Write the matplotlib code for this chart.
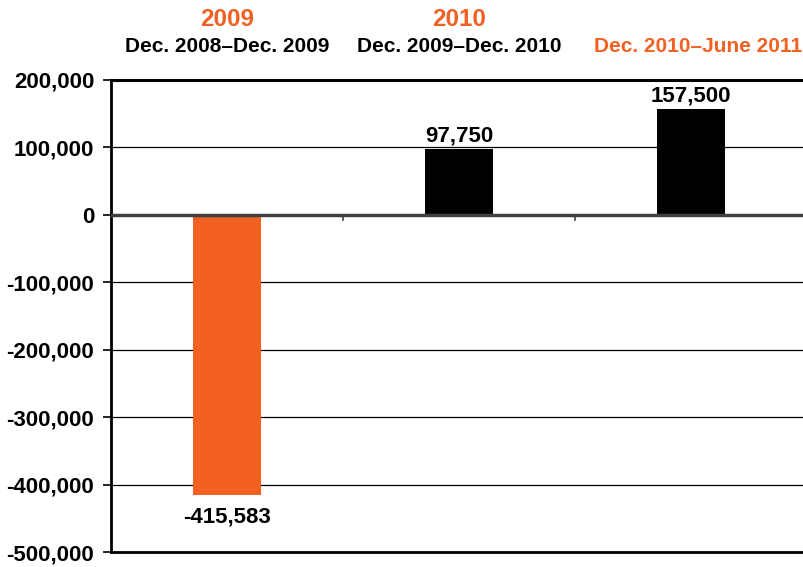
import numpy as np
import matplotlib.pyplot as plt
from matplotlib.ticker import FuncFormatter

# data
periods = ["Dec. 2008\u2013Dec. 2009", "Dec. 2009\u2013Dec. 2010", "Dec. 2010\u2013June 2011"]
years = ["2009", "2010", ""]
changes = [-415583, 97750, 157500]
labels = ["-415,583", "97,750", "157,500"]

orange = "#F26122"
bar_colors = [orange, "black", "black"]
head_colors = ["black", "black", orange]

plt.rcParams['font.family'] = ['Liberation Sans', 'DejaVu Sans']
plt.rcParams['font.weight'] = 'bold'

fig = plt.figure(figsize=(8.04, 5.67), dpi=100)
ax = fig.add_axes([0.138, 0.026, 0.866, 0.833])

x = np.arange(len(changes))
ax.bar(x, changes, width=0.293, color=bar_colors, zorder=3)
ax.set_xlim(-0.5, 2.5)
ax.set_ylim(-500000, 200000)
ax.set_yticks(np.arange(-500000, 200001, 100000))
ax.yaxis.set_major_formatter(FuncFormatter(lambda v, p: f"{int(v):,}"))
ax.tick_params(axis='y', labelsize=16, length=6, width=1.2, pad=6)
ax.grid(axis='y', color='black', linewidth=0.9, zorder=0)

ax.set_xticks([0.5, 1.5])
ax.set_xticklabels([])
ax.tick_params(axis='x', length=0)
# small boundary ticks under the zero line
for b in [0.5, 1.5]:
    ax.plot([b, b], [0, -8000], color='#404040', lw=1.2, zorder=4)
ax.axhline(0, color='#404040', lw=2.5, zorder=4)

ax.spines['right'].set_visible(False)
ax.spines['left'].set_linewidth(2)
ax.spines['bottom'].set_linewidth(2)
ax.spines['top'].set_linewidth(2.2)

for i, (v, t) in enumerate(zip(changes, labels)):
    if v >= 0:
        ax.text(i, v + 3000, t, ha='center', va='bottom', fontsize=16, fontweight='bold')
    else:
        ax.text(i, v - 17000, t, ha='center', va='top', fontsize=16, fontweight='bold')

for i in range(len(periods)):
    xf = fig.transFigure.inverted().transform(ax.transData.transform((i, 0)))[0]
    if i == 2:
        xf += 7 / 804
    if years[i]:
        fig.text(xf, 1 - 19 / 567, years[i], ha='center', va='center',
                 fontsize=17.5, color=orange, fontweight='bold')
    fig.text(xf, 1 - 46 / 567, periods[i], ha='center', va='center',
             fontsize=15, color=head_colors[i], fontweight='bold')

fig.savefig("out.png", dpi=100)
